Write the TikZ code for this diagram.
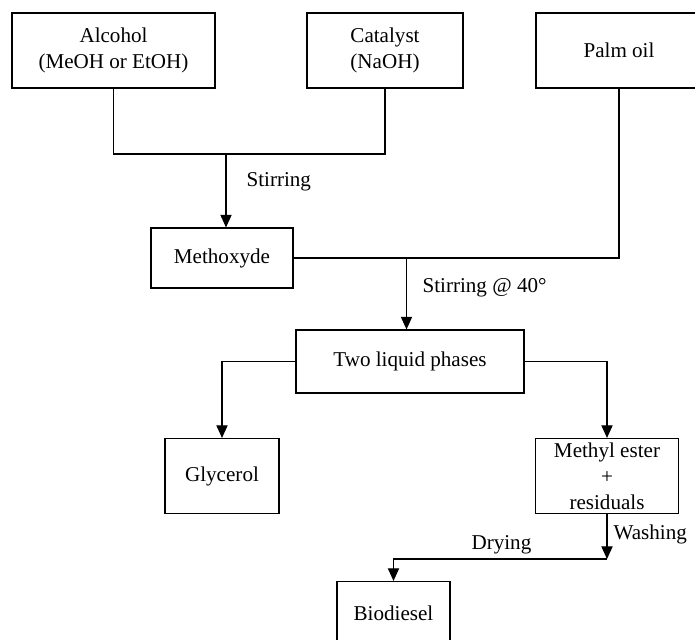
\documentclass[tikz,border=0pt]{standalone}
\usepackage{fontspec}
\setmainfont{Liberation Serif}
\usetikzlibrary{arrows.meta}
\tikzset{
  box/.style={draw, line width=0.8pt, align=center, inner sep=2pt},
  arr/.style={-{Triangle[length=9pt,width=8pt]}},
  lbl/.style={anchor=west, inner sep=0pt}
}
\begin{document}
\begin{tikzpicture}[x=0.025cm,y=-0.025cm,line width=0.8pt,
    font=\fontsize{15}{18.5}\selectfont]
  \useasboundingbox (0,0) rectangle (695,639);
  \draw
    (113.5,50.5) node[box, minimum width=5.075cm, minimum height=1.875cm] (alcohol){Alcohol\\(MeOH or EtOH)}
    (385,50.5) node[box, minimum width=3.9cm, minimum height=1.875cm] (catalyst){Catalyst\\(NaOH)}
    (619,50.5) node[box, minimum width=4.15cm, minimum height=1.875cm] (palm){Palm oil}
    (222,258) node[box, minimum width=3.55cm, minimum height=1.5cm] (methoxyde){Methoxyde}
    (410,361.5) node[box, minimum width=5.7cm, minimum height=1.575cm] (two){Two liquid phases}
    (222,476) node[box, minimum width=2.85cm, minimum height=1.875cm] (glycerol){Glycerol}
    (607,476) node[box, minimum width=3.575cm, minimum height=1.875cm, inner sep=0pt] (ester){Methyl ester\\+\\residuals}
    (393.5,613) node[box, minimum width=2.825cm, minimum height=1.575cm] (biodiesel){Biodiesel};
  \coordinate (mix1) at (226,154);
  \coordinate (mix2) at (406.5,258);
  \coordinate (wash) at (607,559);
  \node[lbl] (stirring) at (246,182) {Stirring};
  \node[lbl] (stirring40) at (422,288) {Stirring @ 40°};
  \node[lbl] (washing) at (613,534) {Washing};
  \node[lbl] (drying) at (471,545) {Drying};
  \begin{scope}
    \draw (alcohol.south) |- (catalyst.south |- mix1) -- (catalyst.south);
    \draw[arr] (mix1) -- (mix1 |- methoxyde.north);
    \draw (methoxyde.east) -| (palm.south);
    \draw[arr] (mix2) -- (mix2 |- two.north);
    \draw[arr] (two.west) -| (glycerol.north);
    \draw[arr] (two.east) -| (ester.north);
    \draw[arr] (ester.south) -- (wash);
    \draw[arr] (wash) -| (biodiesel.north);
  \end{scope}
\end{tikzpicture}
\end{document}
